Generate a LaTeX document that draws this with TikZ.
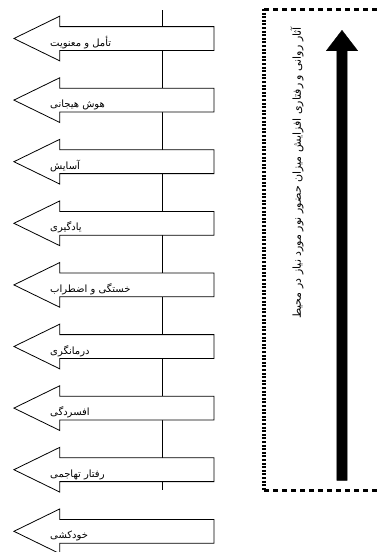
\documentclass[tikz,border=0pt]{standalone}
\usepackage{fontspec}
\newfontfamily\farsi[Script=Arabic]{DejaVu Sans}
\TeXXeTstate=1
\usetikzlibrary{shapes.arrows, positioning}

\begin{document}
\begin{tikzpicture}[
        x=1pt, y=-1pt,
        effect/.style={single arrow, draw, fill=white, shape border rotate=180, minimum width=44pt, minimum height=200pt, single arrow head extend=10.5pt, single arrow tip angle=52, inner xsep=0pt, inner ysep=11.5pt, line width=0.8pt, anchor=tip},
        efftext/.style={anchor=base west, inner sep=0pt, font=\farsi\fontsize{10}{10}\selectfont},
        trend/.style={single arrow, draw, fill=black, shape border rotate=90, minimum width=31pt, minimum height=450pt, single arrow head extend=10.5pt, single arrow tip angle=75, inner sep=5pt, anchor=tip},
        edgeside/.style={line width=4pt, dash pattern=on 2pt off 1.6pt},
        edgetop/.style={line width=3pt, dash pattern=on 4.5pt off 4.5pt}
    ]
        \useasboundingbox (0,0) rectangle (379,552);

        % spine behind the arrows
        \coordinate (spinetop) at (162,10);
        \coordinate (spinebot) at (162,490);
        \draw[line width=0.8pt] (spinetop) -- (spinebot);

        % effects
        \foreach \lbl [count=\i from 0] in {تأمل و معنویت, هوش هیجانی, آسایش, یادگیری, خستگی و اضطراب, درمانگری, افسردگی, رفتار تهاجمی, خودکشی} {
            \node[effect] (eff\i) at (13, 38.5+61.6*\i) {};
            \node[efftext] (lab\i) at (50, 46+61.6*\i) {\beginR\lbl\endR};
        }

        % dashed frame
        \coordinate (frametl) at (264,9);
        \coordinate (framebl) at (264,490);
        \coordinate (frametr) at (390,9);
        \coordinate (framebr) at (390,490);
        \draw[edgeside] (frametl) -- (framebl);
        \draw[edgetop] (frametl) -- (frametr);
        \draw[edgetop] (framebl) -- (framebr);

        % trend arrow and title
        \node[trend] (trend) at (342,30) {};
        \node[rotate=90, inner sep=0pt, font=\farsi\fontsize{11}{11}\selectfont] (title) at (297,173) {\beginR آثار روانی و رفتاری افزایش میزان حضور نور مورد نیاز در محیط\endR};
    \end{tikzpicture}
\end{document}
